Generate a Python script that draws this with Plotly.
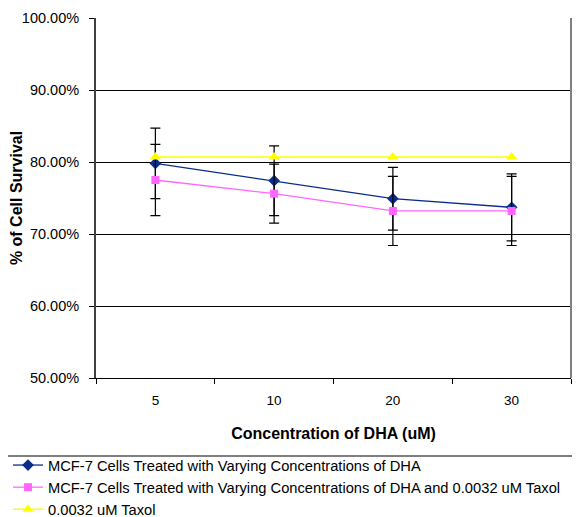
import plotly.graph_objects as go

categories = ["5", "10", "20", "30"]
dha = [79.8, 77.4, 74.9, 73.7]
dha_err = [4.9, 4.85, 4.35, 4.65]
dha_taxol = [77.5, 75.6, 73.2, 73.2]
dha_taxol_err = [4.95, 4.1, 4.8, 4.8]
taxol = [80.7, 80.7, 80.7, 80.7]
y_ticks = [50, 60, 70, 80, 90, 100]

FONT = "Liberation Sans, Arial, sans-serif"

# page body has an 8px margin; figure is sized/positioned to compensate
OFF = 8
PL, PR, PT, PB = 96, 571, 18, 378  # plot area in window pixels
W, H = 580 - OFF, 517 - OFF


def px(xw):
    return (xw - PL) / (PR - PL)


def py(yw):
    return (PB - yw) / (PB - PT)


fig = go.Figure()
fig.add_trace(go.Scatter(
    x=categories, y=dha, mode="lines+markers",
    name="MCF-7 Cells Treated with Varying Concentrations of DHA",
    line=dict(color="#0A2D8C", width=1.3),
    marker=dict(symbol="diamond", size=9, color="#0A2D8C"),
    error_y=dict(type="data", array=dha_err, visible=True, color="black", thickness=1.2, width=5),
))
fig.add_trace(go.Scatter(
    x=categories, y=dha_taxol, mode="lines+markers",
    name="MCF-7 Cells Treated with Varying Concentrations of DHA and 0.0032 uM Taxol",
    line=dict(color="#FF66FF", width=1.3),
    marker=dict(symbol="square", size=8, color="#FF66FF"),
    error_y=dict(type="data", array=dha_taxol_err, visible=True, color="black", thickness=1.2, width=5),
))
fig.add_trace(go.Scatter(
    x=categories, y=taxol, mode="lines+markers",
    name="0.0032 uM Taxol",
    line=dict(color="#FFFF00", width=1.5),
    marker=dict(symbol="triangle-up", size=10, color="#FFFF00"),
))

fig.update_layout(
    width=W, height=H,
    margin=dict(l=PL - OFF, r=W - (PR - OFF), t=PT - OFF, b=H - (PB - OFF), autoexpand=False),
    paper_bgcolor="white", plot_bgcolor="white",
    font=dict(family=FONT, size=13, color="black"),
    showlegend=True,
    legend=dict(
        x=px(8), y=py(449), xanchor="left", yanchor="top",
        borderwidth=0, bgcolor="rgba(0,0,0,0)",
        font=dict(family=FONT, size=14.7),
        itemwidth=30,
    ),
    xaxis=dict(
        type="category", categoryorder="array", categoryarray=categories,
        range=[-0.5, len(categories) - 0.5],
        showgrid=False, showline=True, linecolor="black", linewidth=1,
        ticks="outside", tickson="boundaries", ticklen=5, tickcolor="black",
        tickfont=dict(size=13.5), automargin=False, ticklabelstandoff=10,
        title=dict(text="<b>Concentration of DHA (uM)</b>", font=dict(size=16), standoff=20),
        mirror=False,
    ),
    yaxis=dict(
        range=[50, 100], tickvals=y_ticks,
        ticktext=[f"{v:.2f}%" for v in y_ticks],
        showgrid=True, gridcolor="black", gridwidth=1,
        showline=True, linecolor="#404040", linewidth=2,
        ticks="outside", ticklen=5, tickcolor="black",
        tickfont=dict(size=14.5), automargin=False, ticklabelstandoff=7,
        title=dict(text="<b>% of Cell Survival</b>", font=dict(size=16), standoff=0),
        zeroline=False,
    ),
)
fig.add_shape(type="line", xref="paper", yref="paper", x0=1, x1=1, y0=0, y1=1,
              line=dict(color="#808080", width=2))
# legend frame
fig.add_shape(type="rect", xref="paper", yref="paper",
              x0=px(7), x1=px(579), y0=py(540), y1=py(456),
              line=dict(color="black", width=1), fillcolor="rgba(0,0,0,0)")

fig.write_html("out.html")
